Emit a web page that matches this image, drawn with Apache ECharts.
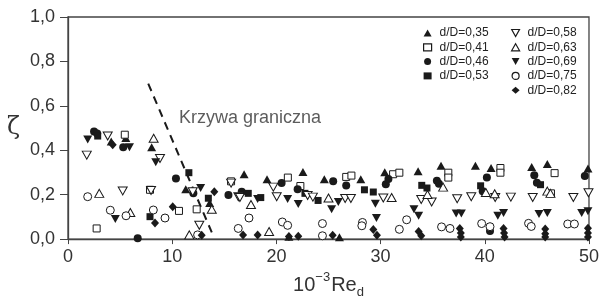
<!DOCTYPE html>
<html>
<head>
<meta charset="utf-8">
<script src="https://cdn.jsdelivr.net/npm/echarts@6/dist/echarts.min.js"></script>
<style>
  html, body { margin: 0; padding: 0; background: #fff; }
  #chart { width: 602px; height: 304px; }
</style>
</head>
<body>
<div id="chart"></div>
<script>
// punkty pomiarowe: [10^-3 Re_d, zeta]
const d035 = [[4.15, 0.44], [5.55, 0.455], [8.03, 0.414], [11.3, 0.225], [13.6, 0.163], [16.9, 0.292], [19.1, 0.27],
  [21.2, 0.011], [22.55, 0.302], [24.6, 0.269], [26.05, 0.008], [28.1, 0.269], [30.4, 0.301], [33.6, 0.306],
  [35.8, 0.33], [39.1, 0.33], [40.6, 0.32], [44.5, 0.325], [46.0, 0.338], [49.9, 0.318]];
const d041 = [[2.75, 0.048], [5.45, 0.47], [7.87, 0.222], [10.65, 0.127], [12.35, 0.134], [15.65, 0.26], [21.1, 0.277],
  [22.3, 0.239], [26.7, 0.28], [27.2, 0.286], [31.2, 0.292], [31.8, 0.299], [36.5, 0.299], [36.5, 0.277],
  [41.5, 0.32], [41.5, 0.299], [46.7, 0.297], [46.35, 0.206]];
const d046 = [[2.5, 0.485], [2.8, 0.475], [5.3, 0.414], [6.69, 0.004], [10.36, 0.273], [12.03, 0.206], [15.4, 0.199],
  [16.67, 0.213], [20.5, 0.253], [22.04, 0.224], [25.45, 0.261], [26.7, 0.241], [30.5, 0.247], [30.75, 0.271],
  [35.4, 0.263], [35.6, 0.249], [39.8, 0.216], [40.2, 0.277], [40.5, 0.037], [44.75, 0.287], [45.0, 0.254],
  [49.6, 0.284]];
const d053 = [[2.85, 0.464], [7.87, 0.101], [11.6, 0.299], [13.47, 0.184], [17.3, 0.206], [18.5, 0.187], [22.74, 0.206],
  [24.0, 0.174], [28.45, 0.222], [29.3, 0.212], [33.95, 0.242], [34.45, 0.23], [39.6, 0.24], [45.35, 0.245]];
const d058 = [[1.8, 0.378], [3.81, 0.464], [5.25, 0.217], [7.97, 0.219], [8.83, 0.363], [11.97, 0.213], [12.6, 0.062],
  [15.65, 0.252], [16.35, 0.191], [16.5, 0.187], [19.7, 0.234], [20.03, 0.191], [23.0, 0.196], [23.5, 0.189],
  [26.6, 0.183], [27.15, 0.183], [30.26, 0.185], [33.9, 0.178], [34.9, 0.167], [37.35, 0.182], [38.7, 0.191],
  [41.0, 0.187], [42.5, 0.189], [44.6, 0.187], [48.5, 0.187], [49.95, 0.209]];
const d063 = [[3.0, 0.206], [5.98, 0.12], [8.22, 0.454], [11.64, 0.019], [13.8, 0.134], [17.56, 0.156], [19.3, 0.034],
  [25.0, 0.185], [31.06, 0.187], [34.5, 0.201], [36.0, 0.234], [40.1, 0.21], [40.95, 0.204], [46.0, 0.216],
  [46.3, 0.206]];
const d069 = [[1.89, 0.449], [4.54, 0.091], [5.9, 0.413], [8.42, 0.346], [12.73, 0.23], [18.2, 0.181], [21.08, 0.181],
  [22.1, 0.158], [25.94, 0.167], [25.3, 0.134], [29.5, 0.159], [29.6, 0.095], [33.2, 0.134], [33.65, 0.105],
  [37.25, 0.115], [37.75, 0.115], [41.25, 0.105], [41.8, 0.118], [45.2, 0.113], [46.0, 0.117], [49.3, 0.117],
  [49.9, 0.125]];
const d075 = [[1.89, 0.191], [4.06, 0.13], [5.57, 0.105], [8.19, 0.131], [9.31, 0.095], [12.44, 0.019], [16.34, 0.048],
  [17.37, 0.095], [20.57, 0.077], [21.08, 0.062], [24.42, 0.07], [24.42, 0.015], [28.26, 0.075], [28.2, 0.06],
  [31.8, 0.044], [32.5, 0.087], [35.85, 0.055], [36.66, 0.048], [39.7, 0.07], [40.5, 0.056], [44.2, 0.071],
  [44.46, 0.057], [47.96, 0.068], [48.6, 0.068]];
const d082 = [[4.29, 0.425], [8.35, 0.072], [10.05, 0.146], [12.83, 0.017], [14.04, 0.213], [16.8, 0.019], [18.2, 0.019],
  [21.2, 0.012], [22.1, 0.013], [25.4, 0.017], [29.3, 0.043], [29.65, 0.017], [33.65, 0.034], [33.9, 0.015],
  [37.6, 0.048], [37.7, 0.027], [37.7, 0.009], [41.8, 0.048], [41.85, 0.027], [41.9, 0.009], [45.8, 0.045],
  [45.8, 0.024], [45.8, 0.009], [49.9, 0.049], [49.9, 0.028], [49.9, 0.009]];

// krzywa graniczna
const boundaryCurve = [[7.7, 0.70], [13.8, 0.03]];
const boundaryLabelPos = [[10.65, 0.545]];
const boundaryLabel = 'Krzywa graniczna';

const seriesNames = ['d/D=0,35', 'd/D=0,41', 'd/D=0,46', 'd/D=0,53', 'd/D=0,58', 'd/D=0,63', 'd/D=0,69', 'd/D=0,75', 'd/D=0,82'];
const seriesData = [d035, d041, d046, d053, d058, d063, d069, d075, d082];

const ink = '#1a1a1a';
const font = "'Liberation Sans', Arial, sans-serif";
const downTriangle = 'path://M0,0L10,0L5,9Z';

// kształt znacznika dla każdej serii
const markers = [
  { symbol: 'triangle', rotate: 0, filled: true, size: [9, 8], icon: 'triangle' },
  { symbol: 'rect', rotate: 0, filled: false, size: 7, icon: 'rect' },
  { symbol: 'circle', rotate: 0, filled: true, size: 8, icon: 'circle' },
  { symbol: 'rect', rotate: 0, filled: true, size: 7, icon: 'rect' },
  { symbol: 'triangle', rotate: 180, filled: false, size: [9, 8], icon: downTriangle },
  { symbol: 'triangle', rotate: 0, filled: false, size: [9, 8], icon: 'triangle' },
  { symbol: 'triangle', rotate: 180, filled: true, size: [9, 8], icon: downTriangle },
  { symbol: 'circle', rotate: 0, filled: false, size: 8, icon: 'circle' },
  { symbol: 'diamond', rotate: 0, filled: true, size: [8, 9], icon: 'diamond' }
];

var myChart = echarts.init(document.getElementById('chart'));

var series = seriesNames.map(function (name, i) {
  var m = markers[i];
  return {
    name: name,
    type: 'scatter',
    data: seriesData[i],
    symbol: m.symbol,
    symbolRotate: m.rotate,
    symbolSize: m.size,
    clip: false,
    itemStyle: {
      color: m.filled ? ink : '#fff',
      borderColor: ink,
      borderWidth: m.filled ? 0 : 1,
      opacity: 1
    },
    emphasis: { disabled: true }
  };
});

series.push({
  type: 'line',
  data: boundaryCurve,
  showSymbol: false,
  symbol: 'none',
  lineStyle: { color: ink, width: 2, type: [8, 6] },
  silent: true,
  z: 1
});

series.push({
  type: 'scatter',
  data: boundaryLabelPos,
  symbolSize: 0,
  silent: true,
  label: {
    show: true,
    position: 'right',
    distance: 0,
    formatter: boundaryLabel,
    color: '#333',
    fontSize: 18,
    fontFamily: font
  }
});

function legendItems(from, to) {
  return seriesNames.slice(from, to).map(function (name, k) {
    return { name: name, icon: markers[from + k].icon, itemStyle: { borderWidth: markers[from + k].filled ? 0 : 1.2 } };
  });
}

var legendCommon = {
  orient: 'vertical',
  padding: 0,
  itemGap: 0.3,
  itemWidth: 8,
  itemHeight: 7,
  symbolRotate: 0,
  selectedMode: false,
  textStyle: { color: '#222', fontSize: 12, fontFamily: font, lineHeight: 14, padding: [0, 0, 0, 3] }
};

var option = {
  animation: false,
  grid: {
    left: 68, right: 13, top: 17, bottom: 54.5,
    show: true,
    borderColor: '#444',
    borderWidth: 1.3
  },
  legend: [
    Object.assign({ left: 423, top: 26, data: legendItems(0, 4) }, legendCommon),
    Object.assign({ left: 511, top: 26, data: legendItems(4, 9) }, legendCommon)
  ],
  xAxis: {
    type: 'value',
    min: 0, max: 50, interval: 10,
    splitLine: { show: false },
    axisLine: { lineStyle: { color: '#444', width: 1.3 } },
    axisTick: { length: 5, lineStyle: { color: '#444' } },
    axisLabel: { color: '#333', fontSize: 18, fontFamily: font, margin: 9 },
    name: '{a|10}{sup|−3}{a|Re}{sub|d}',
    nameLocation: 'middle',
    nameGap: 28,
    nameTextStyle: {
      rich: {
        a: { fontSize: 20, fontFamily: font, color: '#333', lineHeight: 24, verticalAlign: 'bottom' },
        sup: { fontSize: 13, fontFamily: font, color: '#333', lineHeight: 24, verticalAlign: 'top', padding: [0, 1, 0, 0] },
        sub: { fontSize: 13, fontFamily: font, color: '#333', lineHeight: 24, verticalAlign: 'bottom', padding: [0, 0, -4, 0] }
      }
    }
  },
  yAxis: {
    type: 'value',
    min: 0, max: 1, interval: 0.2,
    splitLine: { show: false },
    axisLine: { lineStyle: { color: '#444', width: 1.3 } },
    axisTick: { length: 8, lineStyle: { color: '#444' } },
    axisLabel: {
      color: '#333', fontSize: 18, fontFamily: font, margin: 13,
      formatter: function (v) { return v.toFixed(1).replace('.', ','); }
    },
    name: 'ζ',
    nameLocation: 'middle',
    nameRotate: 0,
    nameGap: 48,
    nameTextStyle: { fontSize: 24, fontFamily: "'DejaVu Serif', serif", color: '#333', padding: [8, 0, 0, 0] }
  },
  series: series
};

myChart.setOption(option);
</script>
</body>
</html>
